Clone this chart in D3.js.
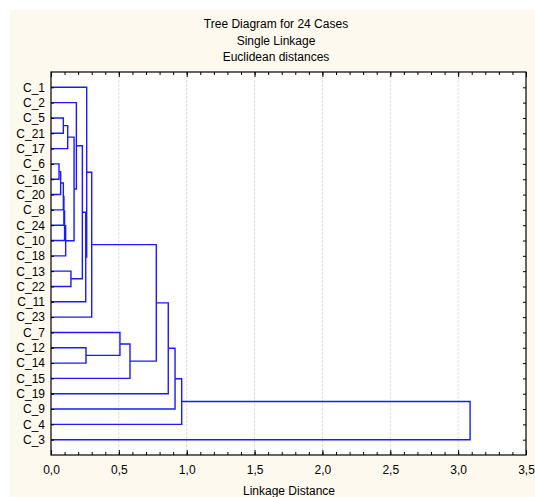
<!DOCTYPE html>
<html><head><meta charset="utf-8">
<script src="https://cdn.jsdelivr.net/npm/d3@7"></script>
<style>
html,body{margin:0;padding:0;background:#fff;}
svg{display:block;}
text{font-family:"Liberation Sans",Arial,sans-serif;fill:#000;}
</style></head>
<body>
<svg id="chart" width="535" height="497"></svg>
<script>
// ---- data ----
const titleLines = ["Tree Diagram for 24 Cases", "Single Linkage", "Euclidean distances"];
const xAxisTitle = "Linkage Distance";
const leaves = ["C_1","C_2","C_5","C_21","C_17","C_6","C_16","C_20","C_8","C_24","C_10","C_18",
                "C_13","C_22","C_11","C_23","C_7","C_12","C_14","C_15","C_19","C_9","C_4","C_3"];
// merge k creates node "n"+k joining mergeA[k] and mergeB[k] at mergeDist[k]
const mergeA = ["C_5","n0","C_6","n2","n3","n4","n5","n6","n1","C_2","C_13","n9","n11","C_1","n13","C_12","C_7","n16","n14","n18","n19","n20","n21"];
const mergeB = ["C_21","C_17","C_16","C_20","C_8","C_24","C_10","C_18","n7","n8","C_22","n10","C_11","n12","C_23","C_14","n15","C_15","n17","C_19","C_9","C_4","C_3"];
const mergeDist = [0.091,0.123,0.059,0.071,0.091,0.095,0.100,0.108,0.170,0.187,0.147,0.231,0.256,0.263,0.300,0.258,0.508,0.582,0.776,0.864,0.914,0.963,3.088];
const xMajorTicks = [0,0.5,1,1.5,2,2.5,3,3.5];

// ---- layout ----
const svg = d3.select("#chart");
const L = 51, R = 526, T = 72, B = 455;
svg.append("rect").attr("width",535).attr("height",497).attr("fill","#fff");
svg.append("rect").attr("x",10).attr("y",10).attr("width",525).attr("height",487).attr("fill","#fdf9ee");
svg.append("rect").attr("x",L).attr("y",T).attr("width",R-L).attr("height",B-T).attr("fill","#fff");

const x = d3.scaleLinear().domain([0,3.5]).range([L,R]);
const y = d3.scalePoint().domain(leaves).range([T,B]).padding(1);

// grid
svg.append("g").selectAll("line").data(xMajorTicks.filter(v=>v>0 && v<3.5)).join("line")
  .attr("x1",d=>x(d)).attr("x2",d=>x(d)).attr("y1",T).attr("y2",B)
  .attr("stroke","#dedede").attr("stroke-width",1).attr("stroke-dasharray","3,1");

// dendrogram
const pos = {};
leaves.forEach(l => pos[l] = {x: x(0), y: y(l)});
const paths = [];
mergeDist.forEach((h,k) => {
  const a = pos[mergeA[k]], b = pos[mergeB[k]];
  const xh = x(h);
  paths.push(`M${a.x},${a.y}H${xh}V${b.y}H${b.x}`);
  pos["n"+k] = {x: xh, y: (a.y+b.y)/2};
});
svg.append("g").selectAll("path").data(paths).join("path")
  .attr("d",d=>d).attr("fill","none").attr("stroke","#1a1aff").attr("stroke-width",1.4);

// axes
const fmt = v => d3.format(".1f")(v).replace(".",",");
const minor = d3.range(0,36).map(i=>i/10);
const gB = svg.append("g").attr("transform",`translate(0,${B})`)
  .call(d3.axisBottom(x).tickValues(xMajorTicks).tickFormat(fmt).tickSizeInner(-5).tickSizeOuter(0).tickPadding(10));
const gBm = svg.append("g").attr("transform",`translate(0,${B})`)
  .call(d3.axisBottom(x).tickValues(minor).tickFormat("").tickSizeInner(-3).tickSizeOuter(0));
const gT = svg.append("g").attr("transform",`translate(0,${T})`)
  .call(d3.axisTop(x).tickValues(xMajorTicks).tickFormat("").tickSizeInner(-5).tickSizeOuter(0));
const gTm = svg.append("g").attr("transform",`translate(0,${T})`)
  .call(d3.axisTop(x).tickValues(minor).tickFormat("").tickSizeInner(-3).tickSizeOuter(0));
const gL = svg.append("g").attr("transform",`translate(${L},0)`)
  .call(d3.axisLeft(y).tickSizeInner(-3).tickSizeOuter(0).tickPadding(6));
const gR = svg.append("g").attr("transform",`translate(${R},0)`)
  .call(d3.axisRight(y).tickFormat("").tickSizeInner(-3).tickSizeOuter(0));
[gB,gBm,gT,gTm,gL,gR].forEach(g=>{
  g.selectAll(".domain").remove();
  g.selectAll("line").attr("stroke","#000");
  g.selectAll("text").attr("font-size",12).attr("font-family","Liberation Sans, Arial, sans-serif").attr("fill","#000");
});
svg.append("rect").attr("x",L).attr("y",T).attr("width",R-L).attr("height",B-T)
  .attr("fill","none").attr("stroke","#000").attr("stroke-width",1.2);

// titles
svg.append("g").selectAll("text").data(titleLines).join("text")
  .attr("x",276).attr("y",(d,i)=>28+i*16.5).attr("text-anchor","middle").attr("font-size",12).text(d=>d);
svg.append("text").attr("x",289).attr("y",495).attr("text-anchor","middle").attr("font-size",12).text(xAxisTitle);
</script>
</body></html>
